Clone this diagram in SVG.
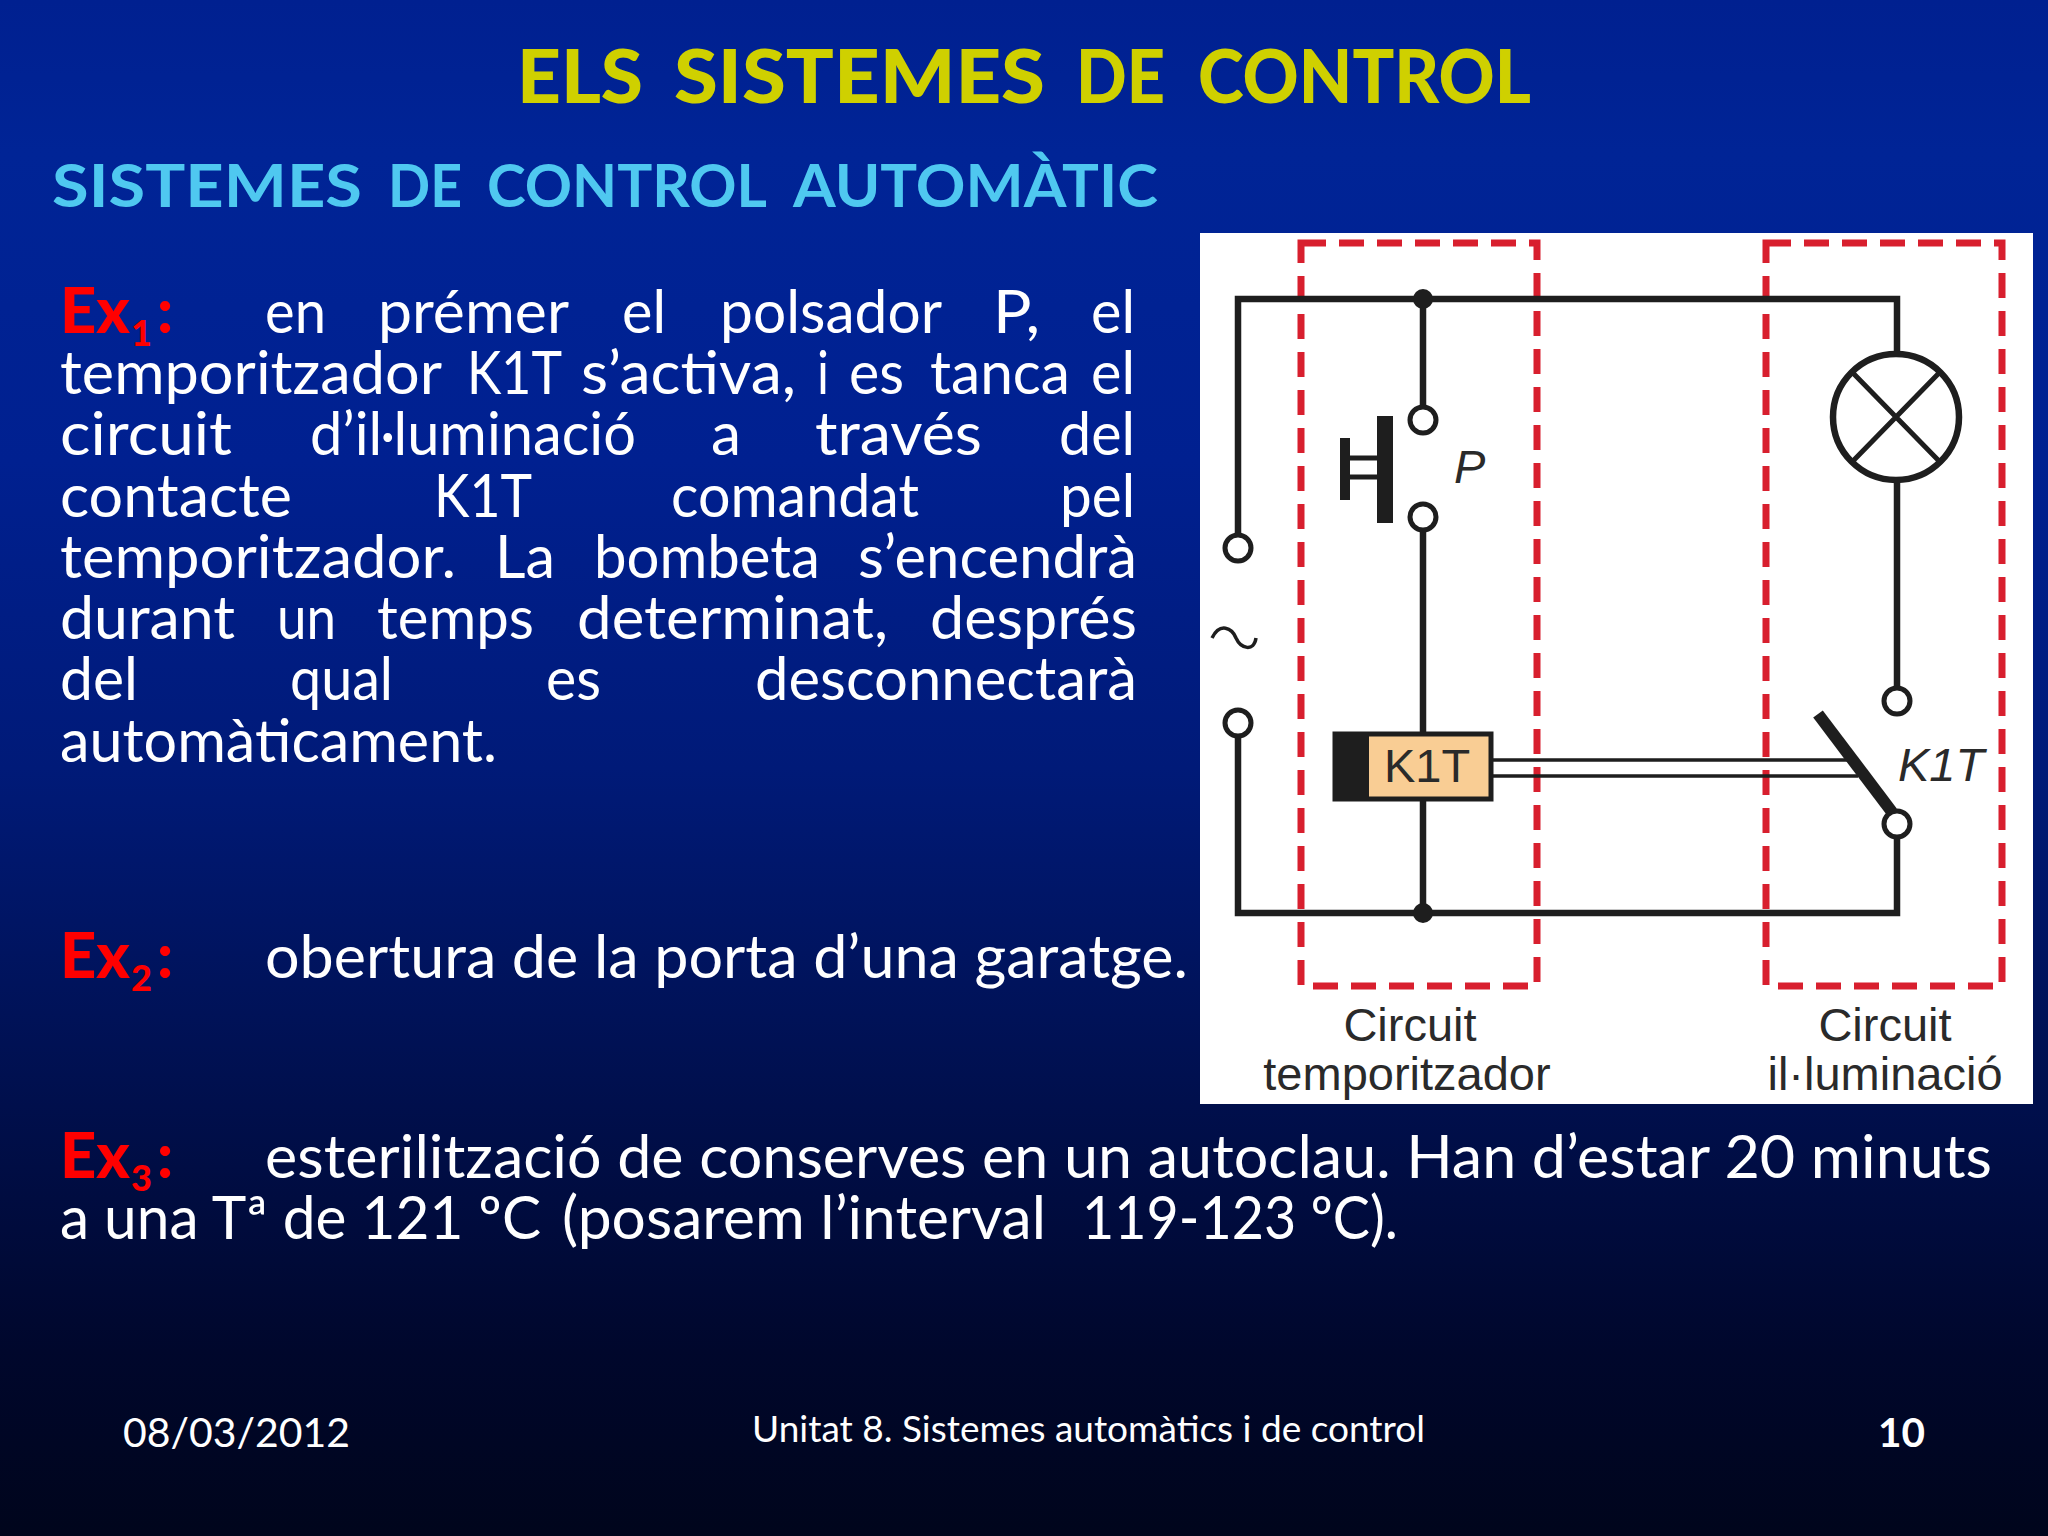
<svg xmlns="http://www.w3.org/2000/svg" width="2048" height="1536" viewBox="0 0 2048 1536">
<defs>
<linearGradient id="bg" x1="0" y1="0" x2="0" y2="1">
<stop offset="0" stop-color="#002090"/><stop offset="0.1" stop-color="#002496"/><stop offset="0.3" stop-color="#002090"/><stop offset="0.5" stop-color="#001a78"/><stop offset="0.7" stop-color="#001050"/><stop offset="0.88" stop-color="#00072c"/><stop offset="1" stop-color="#00051c"/>
</linearGradient>
</defs>
<style>
text{font-family:"Lato","Noto Sans",sans-serif;}
.b{font-size:60px;fill:#fff;}
.r{font-size:62px;fill:#f00;font-weight:900;}
.s{font-size:36px;fill:#f00;font-weight:900;}
.h1{font-size:74px;font-weight:900;fill:#cfd000;}
.h2{font-size:60px;font-weight:700;fill:#4fc8f0;}
.f{font-size:40px;fill:#fff;}
.d{font-family:"Liberation Sans",Arial,sans-serif;font-size:47px;fill:#2a2a2a;}
.i{font-style:italic;}
.w{fill:none;stroke:#1e1e1e;stroke-width:6.5;}
.t{fill:#fff;stroke:#1e1e1e;stroke-width:5;}
.k{fill:#1e1e1e;}
.red{fill:none;stroke:#d81f2e;stroke-width:7;stroke-dasharray:25 13;}
</style>
<rect width="2048" height="1536" fill="url(#bg)"/>
<g id="title">
<text class="h1" x="517" y="103" textLength="126" lengthAdjust="spacingAndGlyphs">ELS</text>
<text class="h1" x="674" y="103" textLength="371" lengthAdjust="spacingAndGlyphs">SISTEMES</text>
<text class="h1" x="1076" y="103" textLength="89" lengthAdjust="spacingAndGlyphs">DE</text>
<text class="h1" x="1198" y="103" textLength="333" lengthAdjust="spacingAndGlyphs">CONTROL</text>
<text class="h2" x="52" y="207" textLength="310" lengthAdjust="spacingAndGlyphs">SISTEMES</text>
<text class="h2" x="388" y="207" textLength="74" lengthAdjust="spacingAndGlyphs">DE</text>
<text class="h2" x="487" y="207" textLength="280" lengthAdjust="spacingAndGlyphs">CONTROL</text>
<text class="h2" x="793" y="207" textLength="365" lengthAdjust="spacingAndGlyphs">AUTOMÀTIC</text>
</g>
<g id="ex1">
<text class="r" x="60" y="333" textLength="70" lengthAdjust="spacingAndGlyphs">Ex</text><text class="s" x="131" y="346">1</text><text class="r" x="157" y="333">:</text>
<text class="b" x="265" y="333" textLength="61" lengthAdjust="spacingAndGlyphs">en</text>
<text class="b" x="378" y="333" textLength="191" lengthAdjust="spacingAndGlyphs">prémer</text>
<text class="b" x="622" y="333" textLength="44" lengthAdjust="spacingAndGlyphs">el</text>
<text class="b" x="720" y="333" textLength="222" lengthAdjust="spacingAndGlyphs">polsador</text>
<text class="b" x="993" y="333" textLength="47" lengthAdjust="spacingAndGlyphs">P,</text>
<text class="b" x="1091" y="333" textLength="44" lengthAdjust="spacingAndGlyphs">el</text>
<text class="b" x="60" y="394" textLength="382" lengthAdjust="spacingAndGlyphs">temporitzador</text>
<text class="b" x="467" y="394" textLength="95" lengthAdjust="spacingAndGlyphs">K1T</text>
<text class="b" x="581" y="394" textLength="215" lengthAdjust="spacingAndGlyphs">s’activa,</text>
<text class="b" x="817" y="394" textLength="12" lengthAdjust="spacingAndGlyphs">i</text>
<text class="b" x="849" y="394" textLength="55" lengthAdjust="spacingAndGlyphs">es</text>
<text class="b" x="930" y="394" textLength="140" lengthAdjust="spacingAndGlyphs">tanca</text>
<text class="b" x="1091" y="394" textLength="44" lengthAdjust="spacingAndGlyphs">el</text>
<text class="b" x="60" y="455" textLength="172" lengthAdjust="spacingAndGlyphs">circuit</text>
<text class="b" x="310" y="455" textLength="326" lengthAdjust="spacingAndGlyphs">d’il·luminació</text>
<text class="b" x="711" y="455" textLength="30" lengthAdjust="spacingAndGlyphs">a</text>
<text class="b" x="815" y="455" textLength="167" lengthAdjust="spacingAndGlyphs">través</text>
<text class="b" x="1059" y="455" textLength="76" lengthAdjust="spacingAndGlyphs">del</text>
<text class="b" x="60" y="517" textLength="232" lengthAdjust="spacingAndGlyphs">contacte</text>
<text class="b" x="434" y="517" textLength="98" lengthAdjust="spacingAndGlyphs">K1T</text>
<text class="b" x="671" y="517" textLength="248" lengthAdjust="spacingAndGlyphs">comandat</text>
<text class="b" x="1060" y="517" textLength="75" lengthAdjust="spacingAndGlyphs">pel</text>
<text class="b" x="60" y="578" textLength="396" lengthAdjust="spacingAndGlyphs">temporitzador.</text>
<text class="b" x="495" y="578" textLength="60" lengthAdjust="spacingAndGlyphs">La</text>
<text class="b" x="594" y="578" textLength="226" lengthAdjust="spacingAndGlyphs">bombeta</text>
<text class="b" x="858" y="578" textLength="279" lengthAdjust="spacingAndGlyphs">s’encendrà</text>
<text class="b" x="60" y="639" textLength="175" lengthAdjust="spacingAndGlyphs">durant</text>
<text class="b" x="277" y="639" textLength="59" lengthAdjust="spacingAndGlyphs">un</text>
<text class="b" x="377" y="639" textLength="157" lengthAdjust="spacingAndGlyphs">temps</text>
<text class="b" x="577" y="639" textLength="311" lengthAdjust="spacingAndGlyphs">determinat,</text>
<text class="b" x="930" y="639" textLength="207" lengthAdjust="spacingAndGlyphs">després</text>
<text class="b" x="60" y="700" textLength="78" lengthAdjust="spacingAndGlyphs">del</text>
<text class="b" x="290" y="700" textLength="103" lengthAdjust="spacingAndGlyphs">qual</text>
<text class="b" x="546" y="700" textLength="55" lengthAdjust="spacingAndGlyphs">es</text>
<text class="b" x="755" y="700" textLength="382" lengthAdjust="spacingAndGlyphs">desconnectarà</text>
<text class="b" x="60" y="762" textLength="437" lengthAdjust="spacingAndGlyphs">automàticament.</text>
</g>
<g id="ex2">
<text class="r" x="60" y="978" textLength="70" lengthAdjust="spacingAndGlyphs">Ex</text><text class="s" x="131" y="991">2</text><text class="r" x="157" y="978">:</text>
<text class="b" x="265" y="978" textLength="923" lengthAdjust="spacingAndGlyphs">obertura de la porta d’una garatge.</text>
</g>
<g id="ex3">
<text class="r" x="60" y="1178" textLength="70" lengthAdjust="spacingAndGlyphs">Ex</text><text class="s" x="131" y="1191">3</text><text class="r" x="157" y="1178">:</text>
<text class="b" x="265" y="1178" textLength="1727" lengthAdjust="spacingAndGlyphs">esterilització de conserves en un autoclau. Han d’estar 20 minuts</text>
<text class="b" x="60" y="1239" textLength="481" lengthAdjust="spacingAndGlyphs">a una Tª de 121 ºC</text>
<text class="b" x="562" y="1239" textLength="484" lengthAdjust="spacingAndGlyphs">(posarem l’interval</text>
<text class="b" x="1082" y="1239" textLength="316" lengthAdjust="spacingAndGlyphs">119-123 ºC).</text>
</g>
<g id="footer">
<text class="f" x="123" y="1447" textLength="227" lengthAdjust="spacingAndGlyphs">08/03/2012</text>
<text class="f" x="752" y="1442" textLength="673" lengthAdjust="spacingAndGlyphs" style="font-size:36px">Unitat 8. Sistemes automàtics i de control</text>
<text class="f" x="1878" y="1447" textLength="47" lengthAdjust="spacingAndGlyphs" style="font-weight:700">10</text>
</g>
<g id="panel"><rect x="1200" y="233" width="833" height="871" fill="#fff"/></g>
<g id="regions">
<rect class="red" x="1301" y="243" width="236" height="743"/>
<rect class="red" x="1766" y="243" width="236" height="743"/>
</g>
<g id="connectors">
<path class="w" d="M1238 534V299H1897V354M1423 299V406M1423 532V732M1423 799V913M1238 737V913H1897V838M1897 481V687"/>
<path class="w" style="stroke-width:3.5" d="M1492 760H1848M1492 776H1858"/>
<path class="w" style="stroke-width:12" d="M1818 714L1892 812"/>
</g>
<g id="junctions"><circle class="k" cx="1423" cy="299" r="10"/><circle class="k" cx="1423" cy="913" r="10"/></g>
<g id="terminals">
<circle class="t" cx="1238" cy="548" r="13"/><circle class="t" cx="1238" cy="723" r="13"/>
<path d="M1212 638C1220 622 1232 628 1236 638C1241 649 1254 652 1256 638" fill="none" stroke="#1e1e1e" stroke-width="3.5"/>
</g>
<g id="push-button">
<circle class="t" cx="1423" cy="420" r="13"/><circle class="t" cx="1423" cy="517" r="13"/>
<rect class="k" x="1377" y="416" width="16" height="107"/><rect class="k" x="1340" y="438" width="10" height="62"/>
<path class="w" style="stroke-width:5" d="M1350 458H1377M1350 477H1377"/>
<text class="d i" x="1454" y="483">P</text>
</g>
<g id="lamp">
<circle cx="1896" cy="417" r="63" fill="#fff" stroke="#1e1e1e" stroke-width="6.5"/>
<path class="w" style="stroke-width:5" d="M1852 372L1940 462M1940 372L1852 462"/>
</g>
<g id="relay">
<rect x="1335" y="734" width="156" height="65" fill="#f9cd94" stroke="#1e1e1e" stroke-width="5"/>
<rect class="k" x="1334" y="733" width="35" height="67"/>
<text class="d" x="1384" y="782">K1T</text>
</g>
<g id="switch">
<circle class="t" cx="1897" cy="701" r="13"/><circle class="t" cx="1897" cy="824" r="13"/>
<text class="d i" x="1898" y="781">K1T</text>
</g>
<g id="labels">
<text class="d" x="1410" y="1041" text-anchor="middle">Circuit</text>
<text class="d" x="1407" y="1090" text-anchor="middle">temporitzador</text>
<text class="d" x="1885" y="1041" text-anchor="middle">Circuit</text>
<text class="d" x="1885" y="1090" text-anchor="middle">il·luminació</text>
</g>
</svg>
